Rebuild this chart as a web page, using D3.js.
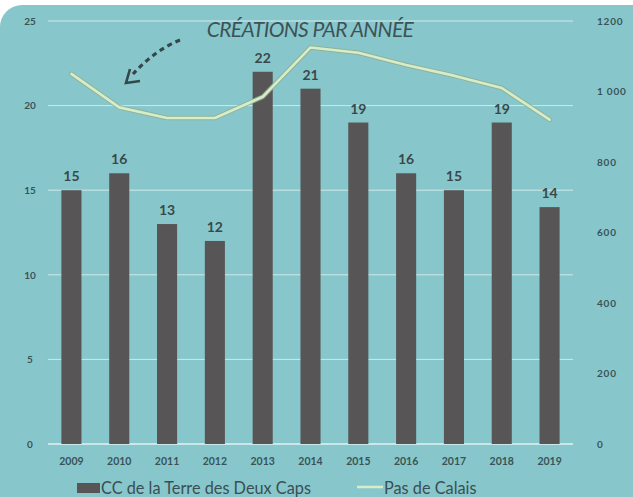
<!DOCTYPE html>
<html>
<head>
<meta charset="utf-8">
<script src="https://cdn.jsdelivr.net/npm/d3@7/dist/d3.min.js"></script>
<style>
  html, body { margin: 0; padding: 0; background: #ffffff; }
  svg { display: block; }
</style>
</head>
<body>
<svg id="chart" width="633" height="497"></svg>
<script>
// Company creations per year: local community (bars) vs département (line)
const years = ["2009","2010","2011","2012","2013","2014","2015","2016","2017","2018","2019"];
const ccValues = [15, 16, 13, 12, 22, 21, 19, 16, 15, 19, 14];
const pdcValues = [1050, 955, 925, 925, 985, 1125, 1110, 1075, 1045, 1010, 920];
const leftTicks = [0, 5, 10, 15, 20, 25];
const rightTicks = [0, 200, 400, 600, 800, 1000, 1200];
const rightTickLabels = ["0", "200", "400", "600", "800", "1 000", "1200"];

const svg = d3.select("#chart");
const W = 633, H = 497;
const font = "Lato, 'Open Sans', sans-serif";
const textDark = "#3a5357";

// card background
svg.append("rect").attr("x", 0).attr("y", 0).attr("width", W).attr("height", H).attr("fill", "#ffffff");
svg.append("rect")
  .attr("x", 0).attr("y", 5).attr("width", W + 40).attr("height", H + 40)
  .attr("rx", 22).attr("fill", "#87c7cc");

const plot = { left: 48, right: 573, top: 21, bottom: 444 };

const x = d3.scaleBand().domain(years).range([plot.left, plot.right]).paddingInner(0.58).paddingOuter(0.28);
const yL = d3.scaleLinear().domain([0, 25]).range([plot.bottom, plot.top]);
const yR = d3.scaleLinear().domain([0, 1200]).range([plot.bottom, plot.top]);

// gridlines
svg.append("g").selectAll("line").data(leftTicks).join("line")
  .attr("x1", plot.left).attr("x2", plot.right)
  .attr("y1", d => yL(d)).attr("y2", d => yL(d))
  .attr("stroke", "#e6f4f4").attr("stroke-opacity", d => d === 0 ? 0.95 : 0.75)
  .attr("stroke-width", d => d === 0 ? 1.6 : 1);

// left axis
const axisL = d3.axisLeft(yL).tickValues(leftTicks).tickSize(0).tickPadding(14);
const gL = svg.append("g").attr("transform", `translate(${plot.left},0)`).call(axisL);
gL.select(".domain").remove();
gL.selectAll("text").attr("font-family", font).attr("font-weight", 700)
  .attr("font-size", 10).attr("fill", textDark).attr("text-anchor", "middle").attr("dx", -4);

// right axis
const axisR = d3.axisRight(yR).tickValues(rightTicks).tickSize(0).tickPadding(24)
  .tickFormat((d, i) => rightTickLabels[i]);
const gR = svg.append("g").attr("transform", `translate(${plot.right},0)`).call(axisR);
gR.select(".domain").remove();
gR.selectAll("text").attr("font-family", font).attr("font-weight", 700)
  .attr("font-size", 10).attr("fill", textDark).attr("letter-spacing", 0.8);

// bottom axis
const axisB = d3.axisBottom(x).tickSize(0).tickPadding(14);
const gB = svg.append("g").attr("transform", `translate(0,${plot.bottom})`).call(axisB);
gB.select(".domain").remove();
gB.selectAll("text").attr("font-family", font).attr("font-weight", 700)
  .attr("font-size", 10.5).attr("fill", textDark);

// bars
const barColor = "#585556";
svg.append("g").selectAll("rect").data(years).join("rect")
  .attr("x", d => x(d)).attr("width", x.bandwidth())
  .attr("y", (d, i) => yL(ccValues[i]))
  .attr("height", (d, i) => yL(0) - yL(ccValues[i]))
  .attr("fill", barColor);

// value labels
svg.append("g").selectAll("text").data(years).join("text")
  .attr("x", d => x(d) + x.bandwidth() / 2)
  .attr("y", (d, i) => yL(ccValues[i]) - 9)
  .attr("text-anchor", "middle")
  .attr("font-family", font).attr("font-weight", 700).attr("font-size", 14)
  .attr("fill", "#3b4749")
  .text((d, i) => ccValues[i]);

// department line
const line = d3.line()
  .x((d, i) => x(years[i]) + x.bandwidth() / 2)
  .y(d => yR(d));
svg.append("path").datum(pdcValues).attr("d", line)
  .attr("fill", "none").attr("stroke", "#93ad8c").attr("stroke-width", 4.6)
  .attr("stroke-linejoin", "round").attr("stroke-linecap", "round").attr("stroke-opacity", 0.85);
svg.append("path").datum(pdcValues).attr("d", line)
  .attr("fill", "none").attr("stroke", "#d6edc9").attr("stroke-width", 2.6)
  .attr("stroke-linejoin", "round").attr("stroke-linecap", "round");

// title
svg.append("text")
  .attr("x", 310).attr("y", 37).attr("text-anchor", "middle")
  .attr("font-family", font).attr("font-style", "italic").attr("font-size", 21)
  .attr("fill", "#3d5256").attr("letter-spacing", -0.6)
  .text("CRÉATIONS PAR ANNÉE");

// dashed pointer arrow
const arrowColor = "#34474a";
svg.append("path")
  .attr("d", "M180,40 Q155,50 133,74")
  .attr("fill", "none").attr("stroke", arrowColor).attr("stroke-width", 3.2)
  .attr("stroke-dasharray", "5,4").attr("stroke-linecap", "butt");
svg.append("path")
  .attr("d", "M130,69 L126,83 L140,81")
  .attr("fill", "none").attr("stroke", arrowColor).attr("stroke-width", 2.6)
  .attr("stroke-linejoin", "miter");

// legend
const legY = 488;
svg.append("rect").attr("x", 77).attr("y", legY - 5).attr("width", 23).attr("height", 10).attr("fill", barColor);
svg.append("text").attr("x", 101).attr("y", legY + 6)
  .attr("font-family", font).attr("font-size", 16.3).attr("fill", "#3a4f53")
  .text("CC de la Terre des Deux Caps");
svg.append("line").attr("x1", 357).attr("x2", 383).attr("y1", legY - 1).attr("y2", legY - 1)
  .attr("stroke", "#d6edc9").attr("stroke-width", 2.5);
svg.append("text").attr("x", 384).attr("y", legY + 6)
  .attr("font-family", font).attr("font-size", 16.3).attr("fill", "#3a4f53")
  .text("Pas de Calais");
</script>
</body>
</html>
